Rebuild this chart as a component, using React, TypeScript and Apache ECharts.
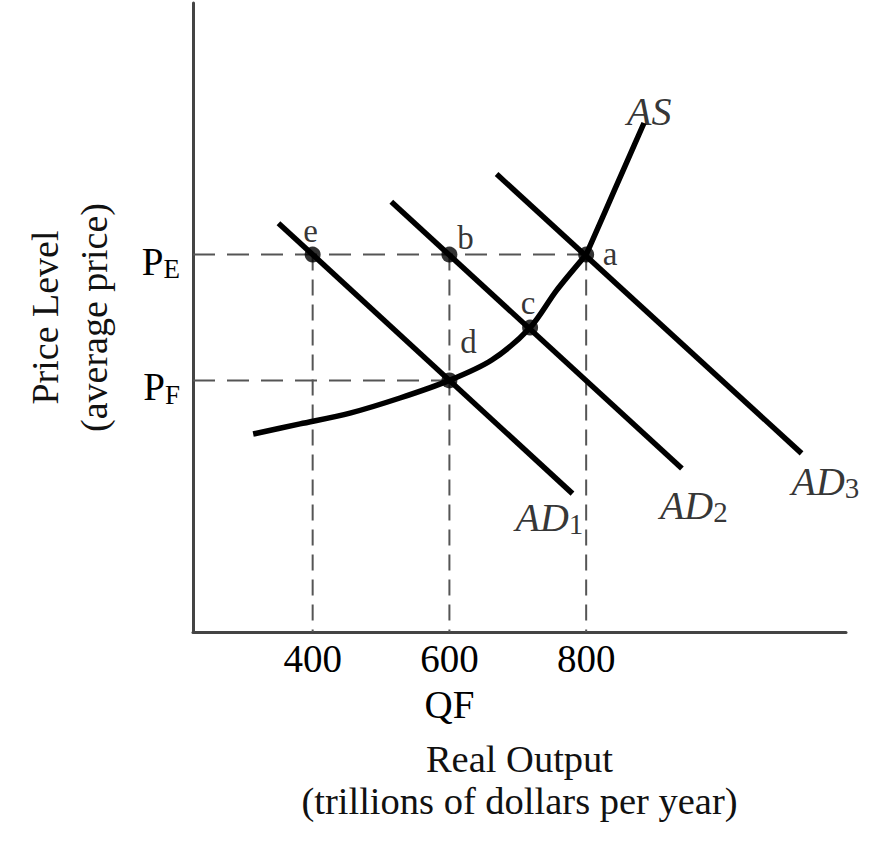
import React, { useEffect, useRef } from "react";
import * as echarts from "echarts";

const SERIF = "'Liberation Serif', 'DejaVu Serif', 'Times New Roman', serif";

// Price levels (arbitrary price index, axis base = 0)
const PRICE_E = 150;
const PRICE_F = 100;
const priceTickNames: Record<number, string> = { 150: "{p|P}{s|E}", 100: "{p|P}{s|F}" };

// Real output ticks
const quantityTickNames: Record<number, string> = { 400: "400", 600: "600\nQF", 800: "800" };

// Aggregate supply curve
const asQuantity = [313, 381.5, 454.6, 527.7, 600, 662, 718, 757, 800, 828, 857, 884.6];
const asPrice = [78.7, 82.7, 87.0, 93.0, 100, 108.1, 121, 135.9, 150, 167.3, 185.3, 202.3];
const AS_KINK_INDEX = 8; // point a

// Aggregate demand lines (start, end)
const ad1Quantity = [350, 780];
const ad1Price = [162.5, 55];
const ad2Quantity = [515, 940];
const ad2Price = [171, 65];
const ad3Quantity = [669, 1115];
const ad3Price = [182, 71];

// Labelled equilibrium points
const pointNames = ["e", "b", "a", "c", "d"];
const pointQuantity = [400, 600, 800, 718, 600];
const pointPrice = [PRICE_E, PRICE_E, PRICE_E, 121, PRICE_F];

const AXIS_MIN_Q = 225;

const zip = (xs: number[], ys: number[]) => xs.map((x, i) => [x, ys[i]]);

const richStyles = {
  m: { fontFamily: SERIF, fontStyle: "italic", fontSize: 40, lineHeight: 26, verticalAlign: "top", color: "#000" },
  s: { fontFamily: SERIF, fontSize: 29, lineHeight: 26, padding: [12, 0, 0, 0], verticalAlign: "top", color: "#000" },
};

export default function App() {
  const ref = useRef<HTMLDivElement>(null);
  useEffect(() => {
    if (!ref.current) return;
    const chart = echarts.init(ref.current, undefined, { renderer: "svg" });

    const dashed = (data: number[][], dash: number[]) => ({
      type: "line",
      data,
      symbol: "none",
      silent: true,
      z: 1,
      lineStyle: { color: "#555", width: 2, type: dash },
    });
    const solid = (data: number[][], smooth: number | boolean = false) => ({
      type: "line",
      data,
      symbol: "none",
      smooth,
      silent: true,
      z: 3,
      lineStyle: { color: "#000", width: 5.5 },
    });

    const pointOffsets: Record<string, number[]> = {
      e: [-2, -24],
      b: [16, -17],
      a: [24, -1],
      c: [-2, -25],
      d: [19, -38],
    };

    const curveLabel = (x: number, y: number, text: string, offset: number[]) => ({
      value: [x, y],
      label: {
        show: true,
        position: "inside",
        align: "left",
        verticalAlign: "middle",
        offset,
        formatter: text,
        rich: richStyles,
      },
    });

    const asPoints = zip(asQuantity, asPrice);

    const option: any = {
      animation: false,
      backgroundColor: "#fff",
      grid: { left: 193, right: 50, top: 3, bottom: 216 },
      xAxis: {
        type: "value",
        min: AXIS_MIN_Q,
        max: 1180,
        interval: 25,
        axisLine: { lineStyle: { color: "#444", width: 3 } },
        axisTick: { show: false },
        splitLine: { show: false },
        axisLabel: {
          margin: 3,
          fontFamily: SERIF,
          fontSize: 39,
          lineHeight: 46,
          color: "#000",
          formatter: (v: number) => quantityTickNames[v] ?? "",
        },
        name: "Real Output\n(trillions of dollars per year)",
        nameLocation: "middle",
        nameGap: 106,
        nameTextStyle: { fontFamily: SERIF, fontSize: 38.5, lineHeight: 42, color: "#111" },
      },
      yAxis: {
        type: "value",
        min: 0,
        max: 250,
        interval: 50,
        axisLine: { show: true, lineStyle: { color: "#444", width: 3 } },
        axisTick: { show: false },
        splitLine: { show: false },
        axisLabel: {
          margin: 13,
          formatter: (v: number) => priceTickNames[v] ?? "",
          rich: {
            p: { fontFamily: SERIF, fontSize: 39, lineHeight: 26, verticalAlign: "top", color: "#000" },
            s: { fontFamily: SERIF, fontSize: 27, lineHeight: 26, padding: [14, 0, 0, 0], verticalAlign: "top", color: "#000" },
          },
        },
        name: "Price Level\n(average price)",
        nameLocation: "middle",
        nameRotate: 90,
        nameGap: 75,
        nameTextStyle: { fontFamily: SERIF, fontSize: 38, lineHeight: 49, color: "#111" },
      },
      series: [
        dashed([[AXIS_MIN_Q, PRICE_E], [pointQuantity[2], PRICE_E]], [22, 12]),
        dashed([[AXIS_MIN_Q, PRICE_F], [pointQuantity[4], PRICE_F]], [22, 12]),
        dashed([[pointQuantity[0], PRICE_E], [pointQuantity[0], 0]], [16, 9]),
        dashed([[pointQuantity[1], PRICE_E], [pointQuantity[1], 0]], [16, 9]),
        dashed([[pointQuantity[2], PRICE_E], [pointQuantity[2], 0]], [16, 9]),
        solid(zip(ad1Quantity, ad1Price)),
        solid(zip(ad2Quantity, ad2Price)),
        solid(zip(ad3Quantity, ad3Price)),
        solid(asPoints.slice(0, AS_KINK_INDEX + 1), 0.3),
        solid(asPoints.slice(AS_KINK_INDEX), 0.2),
        {
          type: "scatter",
          symbol: "circle",
          symbolSize: 16,
          silent: true,
          z: 4,
          itemStyle: { color: "#000" },
          data: pointNames.map((n, i) => ({
            value: [pointQuantity[i], pointPrice[i]],
            name: n,
            label: {
              show: true,
              position: "inside",
              align: "center",
              verticalAlign: "middle",
              offset: pointOffsets[n],
              formatter: n,
              fontFamily: SERIF,
              fontSize: 33,
              color: "#000",
            },
          })),
        },
        {
          type: "scatter",
          symbolSize: 0,
          silent: true,
          z: 5,
          itemStyle: { color: "transparent" },
          data: [
            curveLabel(ad1Quantity[1], ad1Price[1], "{m|AD}{s|1}", [-57, 17]),
            curveLabel(ad2Quantity[1], ad2Price[1], "{m|AD}{s|2}", [-22, 30]),
            curveLabel(ad3Quantity[1], ad3Price[1], "{m|AD}{s|3}", [-10, 21]),
            curveLabel(asQuantity[asQuantity.length - 1], asPrice[asPrice.length - 1], "{m|AS}", [-17, -19]),
          ],
        },
      ],
    };
    chart.setOption(option);
    return () => chart.dispose();
  }, []);
  return <div ref={ref} style={{ width: 896, height: 848, position: "absolute", left: 0, top: 0 }} />;
}
